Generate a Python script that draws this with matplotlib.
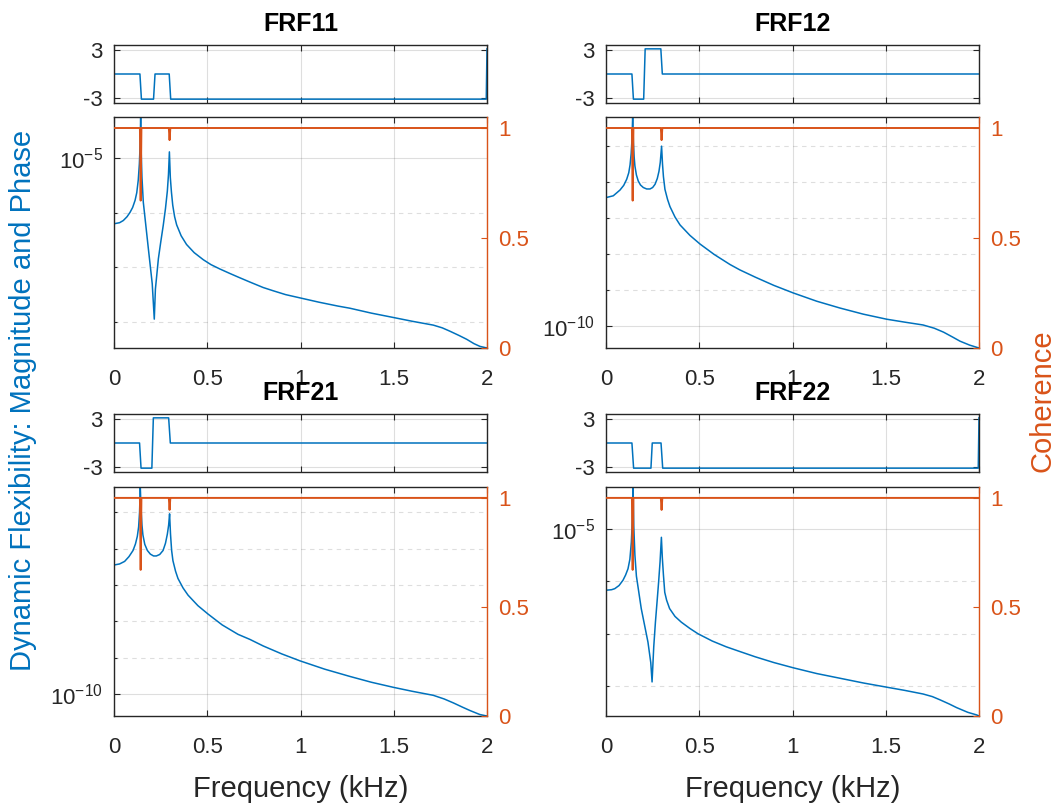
import matplotlib
matplotlib.use("Agg")
import matplotlib.pyplot as plt
import numpy as np
from matplotlib.ticker import NullFormatter, LogFormatterMathtext

plt.rcParams["font.family"] = ["Liberation Sans", "DejaVu Sans"]
plt.rcParams["mathtext.fontset"] = "custom"
plt.rcParams["mathtext.rm"] = "Liberation Sans"
plt.rcParams["axes.unicode_minus"] = False

BLUE = "#0072BD"
ORANGE = "#D95319"
AXCOL = "#262626"

# ---- data (frequency in kHz, magnitude as log10) ----
frf11_f = [0.000, 0.030, 0.050, 0.070, 0.086, 0.100, 0.113, 0.122, 0.130, 0.136,
           0.140, 0.143, 0.146, 0.150, 0.157, 0.184, 0.205, 0.216, 0.222, 0.238,
           0.250, 0.264, 0.276, 0.286, 0.292, 0.297, 0.302, 0.308, 0.315, 0.325,
           0.336, 0.360, 0.389, 0.430, 0.479, 0.520, 0.568, 0.620, 0.667, 0.729,
           0.800, 0.854, 0.920, 0.997, 1.100, 1.200, 1.265, 1.380, 1.498, 1.600,
           1.712, 1.760, 1.800, 1.850, 1.891, 1.930, 1.962, 2.000]
frf11_log = [-6.20, -6.18, -6.14, -6.07, -5.99, -5.90, -5.77, -5.63, -5.40, -5.10,
             -4.75, -4.24, -4.90, -5.35, -5.80, -6.65, -7.30, -7.95, -7.40, -6.84,
             -6.55, -6.23, -5.92, -5.60, -5.30, -4.88, -5.35, -5.62, -5.86, -6.07,
             -6.22, -6.42, -6.58, -6.73, -6.86, -6.95, -7.03, -7.11, -7.18, -7.27,
             -7.37, -7.43, -7.50, -7.56, -7.64, -7.71, -7.75, -7.84, -7.92, -7.99,
             -8.06, -8.11, -8.17, -8.25, -8.32, -8.40, -8.45, -8.48]

frf12_f = [0.000, 0.039, 0.075, 0.095, 0.111, 0.122, 0.129, 0.135, 0.139, 0.143,
           0.147, 0.151, 0.155, 0.163, 0.173, 0.185, 0.200, 0.218, 0.236, 0.250,
           0.263, 0.275, 0.284, 0.291, 0.298, 0.303, 0.308, 0.316, 0.330, 0.343,
           0.370, 0.397, 0.450, 0.504, 0.580, 0.665, 0.718, 0.800, 0.900, 1.004,
           1.130, 1.255, 1.380, 1.505, 1.600, 1.700, 1.760, 1.810, 1.860, 1.898,
           1.950, 2.000]
frf12_log = [-6.43, -6.38, -6.22, -6.09, -5.92, -5.74, -5.52, -5.20, -4.85, -4.19,
             -4.90, -5.30, -5.55, -5.80, -5.97, -6.08, -6.15, -6.19, -6.19, -6.15,
             -6.06, -5.90, -5.70, -5.45, -5.00, -5.50, -5.85, -6.20, -6.48, -6.68,
             -6.97, -7.19, -7.48, -7.72, -8.01, -8.29, -8.44, -8.64, -8.87, -9.08,
             -9.31, -9.50, -9.67, -9.81, -9.89, -9.97, -10.06, -10.17, -10.31, -10.42,
             -10.53, -10.61]

frf21_f = [0.000, 0.030, 0.057, 0.080, 0.102, 0.115, 0.125, 0.132, 0.137, 0.141,
           0.145, 0.150, 0.155, 0.165, 0.179, 0.195, 0.212, 0.227, 0.245, 0.263,
           0.276, 0.286, 0.293, 0.298, 0.303, 0.309, 0.316, 0.330, 0.343, 0.370,
           0.397, 0.450, 0.504, 0.580, 0.665, 0.729, 0.800, 0.900, 0.997, 1.130,
           1.265, 1.380, 1.498, 1.600, 1.712, 1.770, 1.820, 1.870, 1.909, 1.962,
           2.000]
frf21_log = [-6.45, -6.42, -6.35, -6.22, -6.05, -5.87, -5.66, -5.40, -5.00, -4.30,
             -4.90, -5.35, -5.62, -5.88, -6.05, -6.15, -6.20, -6.20, -6.16, -6.05,
             -5.85, -5.60, -5.35, -5.04, -5.60, -6.05, -6.33, -6.62, -6.82, -7.08,
             -7.28, -7.57, -7.80, -8.10, -8.36, -8.50, -8.68, -8.90, -9.09, -9.32,
             -9.52, -9.68, -9.82, -9.93, -10.04, -10.14, -10.25, -10.37, -10.46, -10.57,
             -10.61]

frf22_f = [0.000, 0.030, 0.047, 0.070, 0.091, 0.105, 0.118, 0.128, 0.136, 0.141,
           0.145, 0.149, 0.155, 0.163, 0.189, 0.225, 0.240, 0.247, 0.256, 0.265,
           0.274, 0.282, 0.290, 0.297, 0.302, 0.308, 0.315, 0.325, 0.341, 0.370,
           0.404, 0.450, 0.493, 0.570, 0.645, 0.718, 0.800, 0.900, 1.004, 1.130,
           1.255, 1.380, 1.505, 1.600, 1.700, 1.750, 1.790, 1.840, 1.880, 1.940,
           1.988, 2.000]
frf22_log = [-6.17, -6.16, -6.14, -6.08, -5.98, -5.88, -5.76, -5.58, -5.25, -4.85,
             -4.20, -4.95, -5.50, -5.90, -6.52, -7.16, -7.55, -7.92, -7.25, -6.78,
             -6.38, -6.02, -5.62, -5.16, -5.55, -5.88, -6.21, -6.36, -6.52, -6.67,
             -6.78, -6.90, -7.00, -7.14, -7.25, -7.34, -7.44, -7.55, -7.65, -7.76,
             -7.85, -7.94, -8.02, -8.08, -8.15, -8.20, -8.26, -8.34, -8.41, -8.50,
             -8.55, -8.57]

# phase (rad) breakpoints
ph11_f = [0.000, 0.139, 0.147, 0.212, 0.220, 0.296, 0.304, 1.996, 2.000]
ph11 = [0.0, 0.0, -3.14, -3.14, 0.0, 0.0, -3.14, -3.14, 3.14]
ph12_f = [0.000, 0.139, 0.147, 0.202, 0.210, 0.294, 0.302, 2.000]
ph12 = [0.0, 0.0, -3.14, -3.14, 3.14, 3.14, 0.0, 0.0]
ph21_f = [0.000, 0.137, 0.145, 0.203, 0.211, 0.293, 0.302, 2.000]
ph21 = [0.0, 0.0, -3.14, -3.14, 3.14, 3.14, 0.0, 0.0]
ph22_f = [0.000, 0.139, 0.148, 0.241, 0.248, 0.295, 0.304, 1.996, 2.000]
ph22 = [0.0, 0.0, -3.14, -3.14, 0.0, 0.0, -3.14, -3.14, 3.14]

# coherence
coh_f = [0.000, 0.139, 0.143, 0.147, 0.294, 0.298, 0.302, 2.000]
coh = [1.0, 1.0, 0.67, 1.0, 1.0, 0.945, 1.0, 1.0]

titles = ["FRF11", "FRF12", "FRF21", "FRF22"]
x_ticks = [0, 0.5, 1, 1.5, 2]
x_ticklabels = ["0", "0.5", "1", "1.5", "2"]

W, H = 1056, 805
fig = plt.figure(figsize=(W / 100, H / 100), dpi=100)


def frac(x0, y0, x1, y1):
    return [x0 / W, 1 - y1 / H, (x1 - x0) / W, (y1 - y0) / H]


panels = [
    # left, right, phase top/bottom, mag top/bottom (pixels)
    dict(x=(114, 487), ph=(45, 103), mag=(117, 348), f=frf11_f, m=frf11_log,
         pf=ph11_f, p=ph11, major=[1e-5], minor=[1e-8, 1e-7, 1e-6]),
    dict(x=(606, 979), ph=(45, 103), mag=(117, 348), f=frf12_f, m=frf12_log,
         pf=ph12_f, p=ph12, major=[1e-10], minor=[1e-9, 1e-8, 1e-7, 1e-6, 1e-5]),
    dict(x=(114, 487), ph=(414, 472), mag=(487, 716), f=frf21_f, m=frf21_log,
         pf=ph21_f, p=ph21, major=[1e-10], minor=[1e-9, 1e-8, 1e-7, 1e-6, 1e-5]),
    dict(x=(606, 979), ph=(414, 472), mag=(487, 716), f=frf22_f, m=frf22_log,
         pf=ph22_f, p=ph22, major=[1e-5], minor=[1e-8, 1e-7, 1e-6]),
]

grid_kw = dict(color=AXCOL, alpha=0.15, linewidth=0.8)

for i, pan in enumerate(panels):
    x0, x1 = pan["x"]

    # phase strip
    axp = fig.add_axes(frac(x0, pan["ph"][0], x1, pan["ph"][1]))
    axp.plot(pan["pf"], pan["p"], color=BLUE, lw=1.1)
    axp.set_xlim(0, 2)
    axp.set_ylim(-3.62, 3.62)
    axp.set_xticks(x_ticks)
    axp.set_xticklabels([])
    axp.set_yticks([-3, 3])
    axp.set_yticklabels(["-3", "3"])
    axp.grid(True, **grid_kw)
    axp.tick_params(direction="in", length=4, width=0.8, colors=AXCOL,
                    labelsize=16, top=True, right=True, pad=8)
    for s in axp.spines.values():
        s.set_color(AXCOL)
        s.set_linewidth(1.0)

    # magnitude
    axm = fig.add_axes(frac(x0, pan["mag"][0], x1, pan["mag"][1]))
    mag = 10 ** np.array(pan["m"])
    axm.semilogy(pan["f"], mag, color=BLUE, lw=1.1)
    axm.set_xlim(0, 2)
    axm.set_ylim(mag.min(), mag.max())
    axm.set_xticks(x_ticks)
    axm.set_xticklabels(x_ticklabels)
    axm.set_yticks(pan["major"])
    axm.set_yticks(pan["minor"], minor=True)
    axm.yaxis.set_major_formatter(LogFormatterMathtext())
    axm.yaxis.set_minor_formatter(NullFormatter())
    axm.grid(True, which="major", **grid_kw)
    axm.grid(True, which="minor", axis="y", linestyle=(0, (4, 4)), **grid_kw)
    axm.tick_params(which="both", direction="in", width=0.8, colors=AXCOL,
                    labelsize=16, top=True, right=False)
    axm.tick_params(which="major", length=4)
    axm.tick_params(which="minor", length=2)
    axm.tick_params(axis="y", pad=8)
    axm.tick_params(axis="x", pad=15)
    for s in axm.spines.values():
        s.set_color(AXCOL)
        s.set_linewidth(1.0)
    axm.spines["right"].set_visible(False)

    # coherence on right axis
    axc = axm.twinx()
    axc.plot(coh_f, coh, color=ORANGE, lw=1.4)
    axc.set_ylim(0, 1.05)
    axc.set_yticks([0, 0.5, 1])
    axc.set_yticklabels(["0", "0.5", "1"])
    axc.tick_params(axis="y", direction="in", length=4, width=0.8,
                    colors=ORANGE, labelsize=16, pad=8)
    for name, s in axc.spines.items():
        s.set_visible(name == "right")
    axc.spines["right"].set_color(ORANGE)
    axc.spines["right"].set_linewidth(1.0)

    # title above the phase strip
    fig.text((x0 + x1) / 2 / W, 1 - (pan["ph"][0] - 14) / H, titles[i],
             ha="center", va="baseline", fontsize=18, fontweight="bold",
             color="black")

# shared labels
for xc in [(114 + 487) / 2, (606 + 979) / 2]:
    fig.text(xc / W, 1 - 797 / H, "Frequency (kHz)", ha="center",
             va="baseline", fontsize=21, color=AXCOL)
fig.text(23 / W, 1 - 400 / H, "Dynamic Flexibility: Magnitude and Phase",
         rotation=90, ha="center", va="center", fontsize=21, color=BLUE)
fig.text(1043 / W, 1 - 401 / H, "Coherence", rotation=90, ha="center",
         va="center", fontsize=21, color=ORANGE)

fig.savefig("out.png", dpi=100)
